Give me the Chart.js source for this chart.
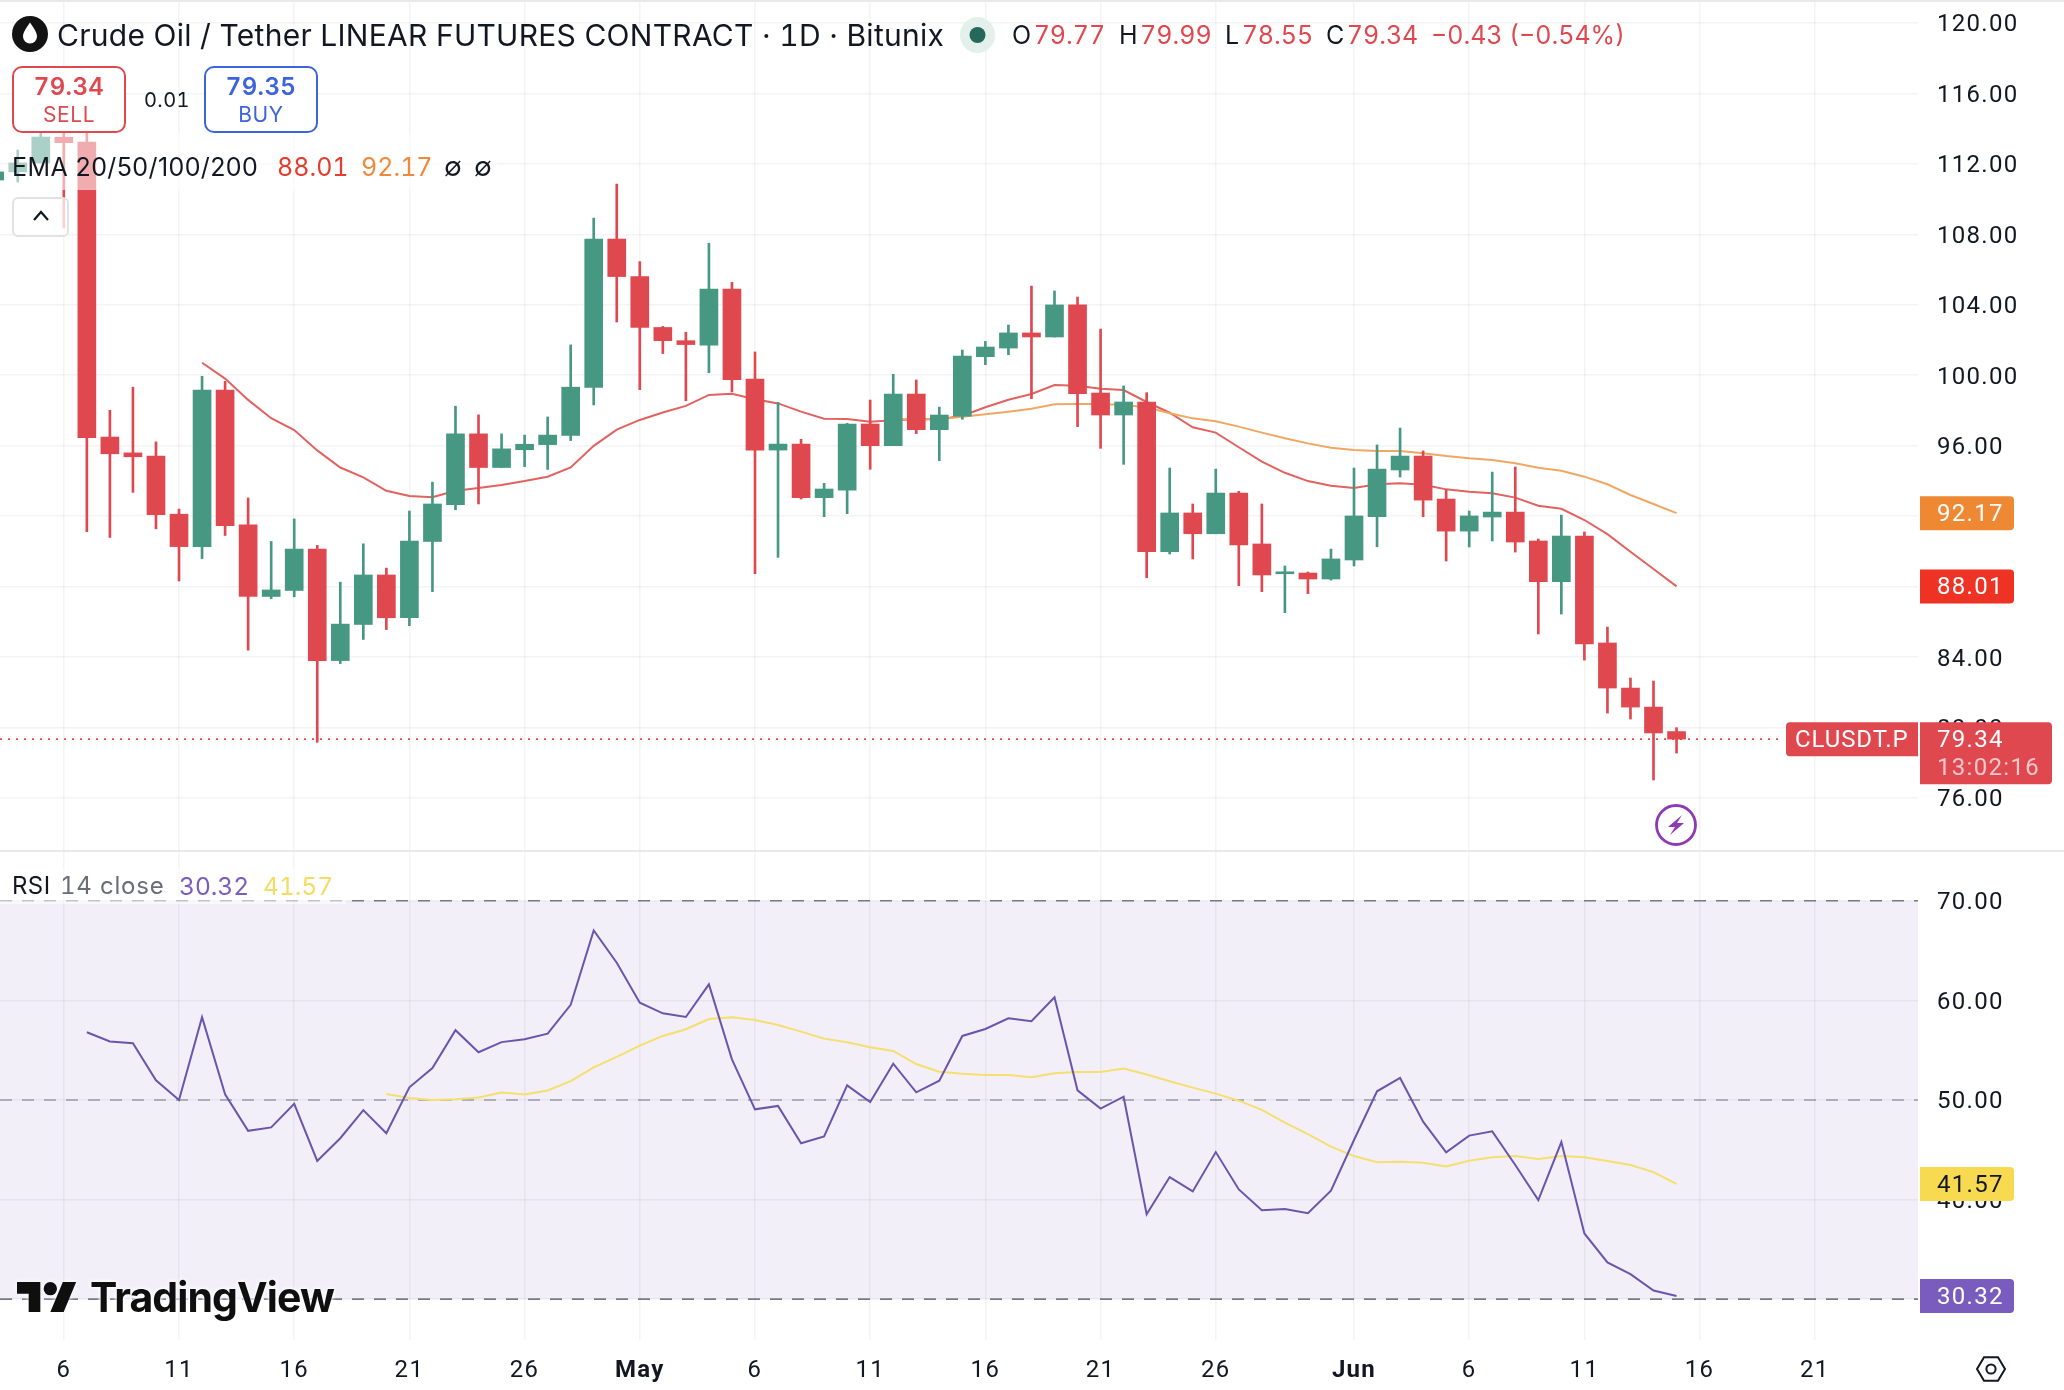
<!DOCTYPE html>
<html>
<head>
<meta charset="utf-8">
<title>CLUSDT.P daily chart</title>
<script src="https://cdn.jsdelivr.net/npm/chart.js@4/dist/chart.umd.min.js"></script>
<style>
  html, body { margin: 0; padding: 0; background: #fff; }
  body { width: 2064px; height: 1390px; position: relative; overflow: hidden;
         font-family: Inter, "Noto Sans", sans-serif; color: #131722; font-variant-numeric: tabular-nums; }
  canvas { position: absolute; left: 0; }
  #priceCanvas { top: 0; }
  #rsiCanvas { top: 852px; }
  .rule { position: absolute; left: 0; width: 2064px; background: #e9e9ec; }
  .txt { position: absolute; white-space: nowrap; line-height: 1; transform: translateY(-50%); }
  .veil { position: absolute; background: rgba(255,255,255,.55); }
  .order { position: absolute; box-sizing: border-box; background: #fff; border: 2px solid; border-radius: 10px;
           width: 114px; height: 67px; top: 66px; text-align: center; }
  .order b { position: absolute; left: 0; right: 0; top: 7px; font-size: 24px; font-weight: 600; line-height: 1; letter-spacing: .4px; }
  .order span { position: absolute; left: 0; right: 0; top: 36px; font-size: 21px; line-height: 1; letter-spacing: .6px; }
  .ohlc span { margin-left: 2.5px; color: #e0484f; }
  .up { position: absolute; left: 12px; top: 197px; width: 57px; height: 40px; box-sizing: border-box;
        border: 2px solid #e2e2e4; border-radius: 6px; background: rgba(255,255,255,.75); }
  svg { position: absolute; overflow: visible; }
  .wordmark { position: absolute; left: 90px; top: 1297px; transform: translateY(-50%); font-size: 41px; font-weight: 700;
              letter-spacing: -.9px; color: #0f0f0f; line-height: 1;
              text-shadow: 0 0 4px #fff, 0 0 4px #fff; }
</style>
</head>
<body>
<canvas id="priceCanvas" width="2064" height="851"></canvas>
<canvas id="rsiCanvas" width="2064" height="538"></canvas>
<div class="rule" style="top:0;height:2px"></div>
<div class="rule" style="top:850px;height:2px"></div>

<svg style="left:12px;top:16px" width="36" height="36" viewBox="0 0 36 36">
  <circle cx="18" cy="18" r="18" fill="#131313"/>
  <path d="M18 6.5 C21 11.5 25 15.5 25 20.5 A7 7 0 0 1 11 20.5 C11 15.5 15 11.5 18 6.5Z" fill="#fff"/>
</svg>
<div class="txt" id="title" style="left:57px;top:35px;font-size:30px;letter-spacing:.27px">Crude Oil / Tether LINEAR FUTURES CONTRACT · 1D · Bitunix</div>
<svg style="left:960px;top:17px" width="35" height="36" viewBox="0 0 35 36">
  <ellipse cx="17.5" cy="18" rx="17.5" ry="18" fill="#e3f0ec"/>
  <circle cx="17.5" cy="18" r="8" fill="#26695a"/>
</svg>
<div class="txt ohlc" style="left:1012px;top:35px;font-size:25px">O<span>79.77</span></div>
<div class="txt ohlc" style="left:1119px;top:35px;font-size:25px">H<span>79.99</span></div>
<div class="txt ohlc" style="left:1225px;top:35px;font-size:25px">L<span>78.55</span></div>
<div class="txt ohlc" style="left:1326px;top:35px;font-size:25px">C<span>79.34</span></div>
<div class="txt" style="left:1431px;top:35px;font-size:25px;color:#e0484f">−0.43 (−0.54%)</div>

<div class="veil" style="left:8px;top:133px;width:490px;height:57px"></div>
<div class="order" style="left:12px;border-color:#e0484f;color:#e0484f"><b>79.34</b><span>SELL</span></div>
<div class="txt" style="left:144px;top:100px;font-size:20px;letter-spacing:.4px">0.01</div>
<div class="order" style="left:204px;border-color:#3d63dd;color:#3d63dd"><b>79.35</b><span>BUY</span></div>

<div class="txt" style="left:12px;top:167px;font-size:25px;letter-spacing:.4px;font-variant-numeric:normal">EMA 20/50/100/200</div>
<div class="txt" style="left:277px;top:167px;font-size:25px;color:#e23d2e">88.01</div>
<div class="txt" style="left:361px;top:167px;font-size:25px;color:#ef8a3c">92.17</div>
<div class="txt" style="left:444px;top:167px;font-size:26px">∅</div>
<div class="txt" style="left:474px;top:167px;font-size:26px">∅</div>
<div class="up"></div>
<svg style="left:33px;top:210px" width="16" height="12" viewBox="0 0 16 12">
  <path d="M1 10 L8 2 L15 10" fill="none" stroke="#131722" stroke-width="2.2"/>
</svg>

<svg style="left:1655px;top:804px" width="42" height="42" viewBox="0 0 42 42">
  <circle cx="21" cy="21" r="19.5" fill="#fff" stroke="#8e3ab4" stroke-width="2.8"/>
  <path d="M27 11 L13 23 H20 L15 31 L29 19 H22 Z" fill="#8e3ab4"/>
</svg>

<div class="veil" style="left:0;top:868px;width:346px;height:36px"></div>
<div class="txt" style="left:12px;top:886px;font-size:24px;letter-spacing:.4px">RSI</div>
<div class="txt" style="left:60px;top:886px;font-size:24px;letter-spacing:.8px;color:#6a6d78">14 close</div>
<div class="txt" style="left:179px;top:886px;font-size:24.5px;color:#7a5cbe">30.32</div>
<div class="txt" style="left:263px;top:886px;font-size:24.5px;color:#f5dc62">41.57</div>

<svg style="left:17px;top:1282px;filter:drop-shadow(0 0 3px #fff)" width="60" height="30" viewBox="0 0 36 18">
  <path d="M14 18H7V7H0V0h14v18zM28 18h-8L27.5 0h8L28 18z" fill="#0f0f0f"/>
  <circle cx="20" cy="4" r="4" fill="#0f0f0f"/>
</svg>
<div class="wordmark">TradingView</div>

<svg style="left:1976px;top:1356px" width="30" height="26" viewBox="0 0 30 26">
  <path d="M8 1.2 H22 L29 13 L22 24.8 H8 L1 13 Z" fill="none" stroke="#131722" stroke-width="2"/>
  <circle cx="15" cy="13" r="4.6" fill="none" stroke="#131722" stroke-width="2"/>
</svg>

<script>
// Daily candles; the first value of each series belongs to firstDay.
const firstDay = -3;
const opens = [111.08,111.54,112.05,113.51,113.24,96.49,95.59,95.41,92.11,90.27,99.16,91.50,87.44,87.78,90.13,83.80,85.85,88.66,86.23,90.56,92.65,96.67,94.76,95.77,96.06,96.58,99.30,107.73,105.60,102.71,101.96,101.71,104.89,99.78,95.75,96.09,93.05,93.48,97.23,96.00,98.93,96.91,97.68,101.05,101.54,102.40,102.17,103.99,98.99,97.74,98.48,89.98,92.18,91.00,93.31,90.42,88.73,88.77,88.43,89.51,91.97,94.62,95.41,92.97,91.15,91.95,92.23,90.59,88.28,90.87,84.80,82.24,81.16,79.77];
const highs = [111.93,112.78,114.20,114.60,114.49,98.01,99.32,96.22,92.40,99.94,99.65,93.03,90.56,91.84,90.34,88.25,90.43,89.05,92.29,93.93,98.24,97.75,96.67,96.60,97.63,101.72,108.92,110.85,106.45,102.77,102.44,107.49,105.27,101.32,98.46,96.36,93.86,97.27,98.59,100.05,99.73,98.19,101.43,101.92,102.85,105.06,104.78,104.44,102.62,99.39,99.01,94.73,92.69,94.67,93.41,92.69,89.17,88.83,90.13,94.73,96.04,97.00,95.70,93.48,92.29,94.50,94.79,90.70,92.06,91.10,85.70,82.81,82.64,79.99];
const lows = [110.74,110.97,112.05,108.36,91.12,90.79,93.35,91.28,88.32,89.59,90.90,84.39,87.31,87.42,79.16,83.63,85.00,85.56,85.78,87.71,92.36,92.69,94.76,94.81,94.65,96.29,98.31,103.02,99.18,101.23,98.55,100.14,99.05,88.73,89.66,92.97,91.97,92.14,94.66,96.00,96.68,95.15,97.50,100.60,101.16,98.67,102.17,97.08,95.85,94.94,88.50,89.85,89.57,91.00,88.05,87.71,86.52,87.60,88.37,89.17,90.26,94.22,91.97,89.45,90.25,90.59,89.96,85.31,86.44,83.83,80.82,80.48,77.02,78.55];
const closes = [111.54,112.05,113.52,113.20,96.46,95.54,95.37,92.09,90.27,99.16,91.46,87.44,87.81,90.13,83.80,85.87,88.66,86.23,90.59,92.69,96.67,94.76,95.82,96.08,96.60,99.32,107.73,105.60,102.71,101.96,101.74,104.89,99.74,95.75,96.09,93.05,93.54,97.23,96.00,98.93,96.91,97.74,101.09,101.60,102.40,102.17,103.99,98.95,97.74,98.48,89.98,92.18,91.00,93.31,90.36,88.66,88.84,88.43,89.57,92.01,94.67,95.41,92.91,91.15,92.01,92.23,90.53,88.28,90.87,84.74,82.24,81.16,79.69,79.34];

const ema20First = 6;
const ema20Values = [100.71,99.81,98.60,97.56,96.89,95.73,94.76,94.20,93.44,93.14,93.07,93.44,93.60,93.77,93.99,94.24,94.76,95.99,96.91,97.46,97.88,98.26,98.88,98.95,98.63,98.40,97.93,97.53,97.51,97.36,97.44,97.50,97.50,97.70,98.18,98.61,98.93,99.44,99.40,99.23,99.16,98.48,97.87,97.04,96.74,95.91,95.09,94.46,93.99,93.73,93.60,93.81,93.86,93.78,93.52,93.39,93.30,93.05,92.59,92.42,91.78,90.98,89.98,89.00,88.01];
const ema50First = 36;
const ema50Values = [97.50,97.50,97.50,97.64,97.78,97.93,98.10,98.35,98.37,98.37,98.31,98.18,97.84,97.55,97.38,97.08,96.74,96.42,96.13,95.88,95.75,95.70,95.70,95.57,95.41,95.28,95.19,95.00,94.75,94.58,94.24,93.81,93.20,92.69,92.17];

const rsiFirst = 1;
const rsiValues = [56.80,55.88,55.70,51.97,50.00,58.31,50.56,46.90,47.25,49.61,43.88,46.16,48.98,46.66,51.27,53.20,57.01,54.79,55.81,56.09,56.66,59.55,67.02,63.78,59.77,58.70,58.33,61.61,54.08,49.06,49.40,45.65,46.35,51.47,49.80,53.65,50.77,51.94,56.43,57.13,58.20,57.90,60.31,50.97,49.13,50.33,38.52,42.26,40.82,44.77,41.02,38.94,39.05,38.64,40.89,45.98,50.87,52.21,47.82,44.74,46.42,46.85,43.47,39.95,45.78,36.60,33.69,32.51,30.87,30.32];
const rsiMaFirst = 14;
const rsiMaValues = [50.60,50.21,50.00,50.07,50.25,50.74,50.56,50.95,51.90,53.27,54.33,55.46,56.43,57.10,58.13,58.30,58.03,57.53,56.86,56.16,55.79,55.29,54.92,53.61,52.84,52.64,52.51,52.51,52.28,52.68,52.81,52.81,53.15,52.55,51.88,51.24,50.64,49.93,49.00,47.72,46.58,45.31,44.37,43.74,43.80,43.70,43.33,43.90,44.24,44.37,44.07,44.37,44.24,43.87,43.47,42.76,41.57];

const xTickDays = [0,5,10,15,20,25,30,35,40,45,50,56,61,66,71,76];
const xTickLabels = ["6","11","16","21","26","May","6","11","16","21","26","Jun","6","11","16","21"];
const boldXLabels = ["May","Jun"];
const priceTicks = [76,80,84,88,92,96,100,104,108,112,116,120];
const rsiTicks = [30,40,50,60,70];
const rsiBand = [30,70];
const rsiLevels = [30,50,70];
const priceLineEndDay = 74.5;

const UP = "#469883", DOWN = "#e0484f";
const AXIS_FONT = { family: 'Roboto, "Noto Sans", sans-serif', size: 24 };
const AXIS_SPACING = "1.3px";
const GRID = "rgba(42,46,57,.055)";
const dayRange = { min: -2.77, max: 80.48 };

const days = opens.map((_, i) => firstDay + i);
const candleColors = days.map((_, i) => closes[i] >= opens[i] ? UP : DOWN);
const seriesPoints = (first, values) => values.map((y, i) => ({ x: first + i, y }));

// Fixes each axis to its reserved band so the plot areas line up exactly,
// and settles the y labels on their grid lines for this font's metrics.
function fixVertical(scale) {
  scale.width = 146; scale.paddingTop = 0; scale.paddingBottom = 0;
  if (!scale.labelsNudged) {
    const draw = scale.drawLabels;
    scale.drawLabels = function (area) {
      this.ctx.save();
      this.ctx.translate(0, 2.5);
      draw.call(this, area);
      this.ctx.restore();
    };
    scale.labelsNudged = true;
  }
}
function clearHorizontal(scale) { scale.paddingLeft = 0; scale.paddingRight = 0; }

// Loosens the glyph spacing used for the axis labels.
const axisSpacing = { id: "axisSpacing", beforeDraw(chart) { chart.ctx.letterSpacing = AXIS_SPACING; } };

// Coloured value tags on the right-hand axis, placed through the y scale.
function valueTags(tags) {
  return {
    id: "valueTags",
    afterDraw(chart) {
      const { ctx, scales: { y } } = chart;
      ctx.save();
      ctx.textBaseline = "middle";
      for (const t of tags) {
        const py = y.getPixelForValue(t.value);
        const x = t.x, top = py - 17, h = t.height || 34;
        ctx.fillStyle = t.fill;
        ctx.beginPath();
        ctx.roundRect(x, top, t.width, h, t.radii);
        ctx.fill();
        ctx.font = `${AXIS_FONT.size}px ${AXIS_FONT.family}`;
        ctx.letterSpacing = t.spacing || AXIS_SPACING;
        ctx.fillStyle = t.color;
        ctx.textAlign = "left";
        ctx.fillText(t.text, t.tx, py + 2);
        if (t.sub) {
          ctx.fillStyle = t.subColor;
          ctx.fillText(t.sub, t.tx, py + 30);
        }
      }
      ctx.restore();
    }
  };
}

// Shaded RSI range, painted underneath the grid.
const bandFill = {
  id: "bandFill",
  beforeDraw(chart) {
    const { ctx, chartArea: a, scales: { y } } = chart;
    const t = y.getPixelForValue(rsiBand[1]), b = y.getPixelForValue(rsiBand[0]);
    ctx.save();
    ctx.fillStyle = "#f2eff9";
    ctx.fillRect(a.left, t, a.right - a.left, b - t);
    ctx.restore();
  }
};

function xAxis(showLabels) {
  return {
    type: "linear", offset: false, min: dayRange.min, max: dayRange.max,
    afterBuildTicks(s) { s.ticks = xTickDays.map(value => ({ value })); },
    afterFit(s) { clearHorizontal(s); s.height = showLabels ? 50 : 0; },
    border: { display: false },
    grid: { offset: false, color: GRID, lineWidth: 1.5, drawTicks: false },
    ticks: {
      display: showLabels, autoSkip: false, maxRotation: 0, padding: 17, color: "#131722",
      callback: v => xTickLabels[xTickDays.indexOf(v)],
      font: c => ({ ...AXIS_FONT, weight: boldXLabels.includes(xTickLabels[c.index]) ? "700" : "400" })
    }
  };
}

function yAxis(min, max, values) {
  return {
    position: "right", min, max,
    afterBuildTicks(s) { s.ticks = values.map(value => ({ value })); },
    afterFit: fixVertical,
    border: { display: false },
    grid: { color: GRID, lineWidth: 1.5, drawTicks: false },
    ticks: { autoSkip: false, padding: 19, color: "#131722", font: AXIS_FONT, callback: v => v.toFixed(2) }
  };
}

const baseOptions = {
  responsive: false, animation: false, devicePixelRatio: 1,
  layout: { padding: 0 },
  plugins: { legend: { display: false }, tooltip: { enabled: false } },
  elements: { point: { radius: 0 }, line: { tension: 0 } }
};

const lastClose = closes[closes.length - 1];
const lastEma20 = ema20Values[ema20Values.length - 1];
const lastEma50 = ema50Values[ema50Values.length - 1];

new Chart(document.getElementById("priceCanvas"), {
  type: "bar",
  data: {
    datasets: [
      { data: days.map((x, i) => ({ x, y: [opens[i], closes[i]] })), backgroundColor: candleColors,
        barThickness: 18, grouped: false, borderWidth: 0, order: 0 },
      { data: days.map((x, i) => ({ x, y: [lows[i], highs[i]] })), backgroundColor: candleColors,
        barThickness: 2, grouped: false, borderWidth: 0, order: 1 },
      { type: "line", data: seriesPoints(ema50First, ema50Values), borderColor: "#f0a763", borderWidth: 2, order: 2 },
      { type: "line", data: seriesPoints(ema20First, ema20Values), borderColor: "#e2625f", borderWidth: 2, order: 2 },
      { type: "line", data: [{ x: dayRange.min, y: lastClose }, { x: priceLineEndDay, y: lastClose }],
        borderColor: DOWN, borderWidth: 1.8, borderDash: [2, 6], order: 3 }
    ]
  },
  options: { ...baseOptions,
    scales: { x: xAxis(false), y: yAxis(72.99, 121.30, priceTicks) } },
  plugins: [axisSpacing, valueTags([
    { value: lastEma50, x: 1920, width: 94, fill: "#ef8833", color: "#fff", text: lastEma50.toFixed(2), tx: 1937, radii: [0, 4, 4, 0] },
    { value: lastEma20, x: 1920, width: 94, fill: "#ee3224", color: "#fff", text: lastEma20.toFixed(2), tx: 1937, radii: [0, 4, 4, 0] },
    { value: lastClose, x: 1786, width: 132, fill: DOWN, color: "#fff", text: "CLUSDT.P", tx: 1795, spacing: ".9px", radii: [4, 0, 0, 4] },
    { value: lastClose, x: 1920, width: 132, height: 62, fill: DOWN, color: "#fff", text: lastClose.toFixed(2), tx: 1937,
      sub: "13:02:16", subColor: "rgba(255,255,255,.7)", radii: [0, 4, 4, 0] }
  ])]
});

const lastRsi = rsiValues[rsiValues.length - 1];
const lastRsiMa = rsiMaValues[rsiMaValues.length - 1];
const levelLine = (level, color) => ({
  type: "line", data: [{ x: dayRange.min, y: level }, { x: dayRange.max, y: level }],
  borderColor: color, borderWidth: 1.6, borderDash: [12, 10], order: 3
});

new Chart(document.getElementById("rsiCanvas"), {
  type: "line",
  data: {
    datasets: [
      levelLine(rsiLevels[2], "#787b86"),
      levelLine(rsiLevels[1], "rgba(120,123,134,.7)"),
      levelLine(rsiLevels[0], "#787b86"),
      { data: seriesPoints(rsiMaFirst, rsiMaValues), borderColor: "#f5df6e", borderWidth: 2, order: 2 },
      { data: seriesPoints(rsiFirst, rsiValues), borderColor: "#6a55ad", borderWidth: 2, order: 1 }
    ]
  },
  options: { ...baseOptions,
    scales: { x: xAxis(true), y: yAxis(25.90, 74.90, rsiTicks) } },
  plugins: [axisSpacing, bandFill, valueTags([
    { value: lastRsiMa, x: 1920, width: 94, fill: "#f7da50", color: "#131722", text: lastRsiMa.toFixed(2), tx: 1937, radii: [0, 4, 4, 0] },
    { value: lastRsi, x: 1920, width: 94, fill: "#7a5cbe", color: "#fff", text: lastRsi.toFixed(2), tx: 1937, radii: [0, 4, 4, 0] }
  ])]
});
</script>
</body>
</html>
